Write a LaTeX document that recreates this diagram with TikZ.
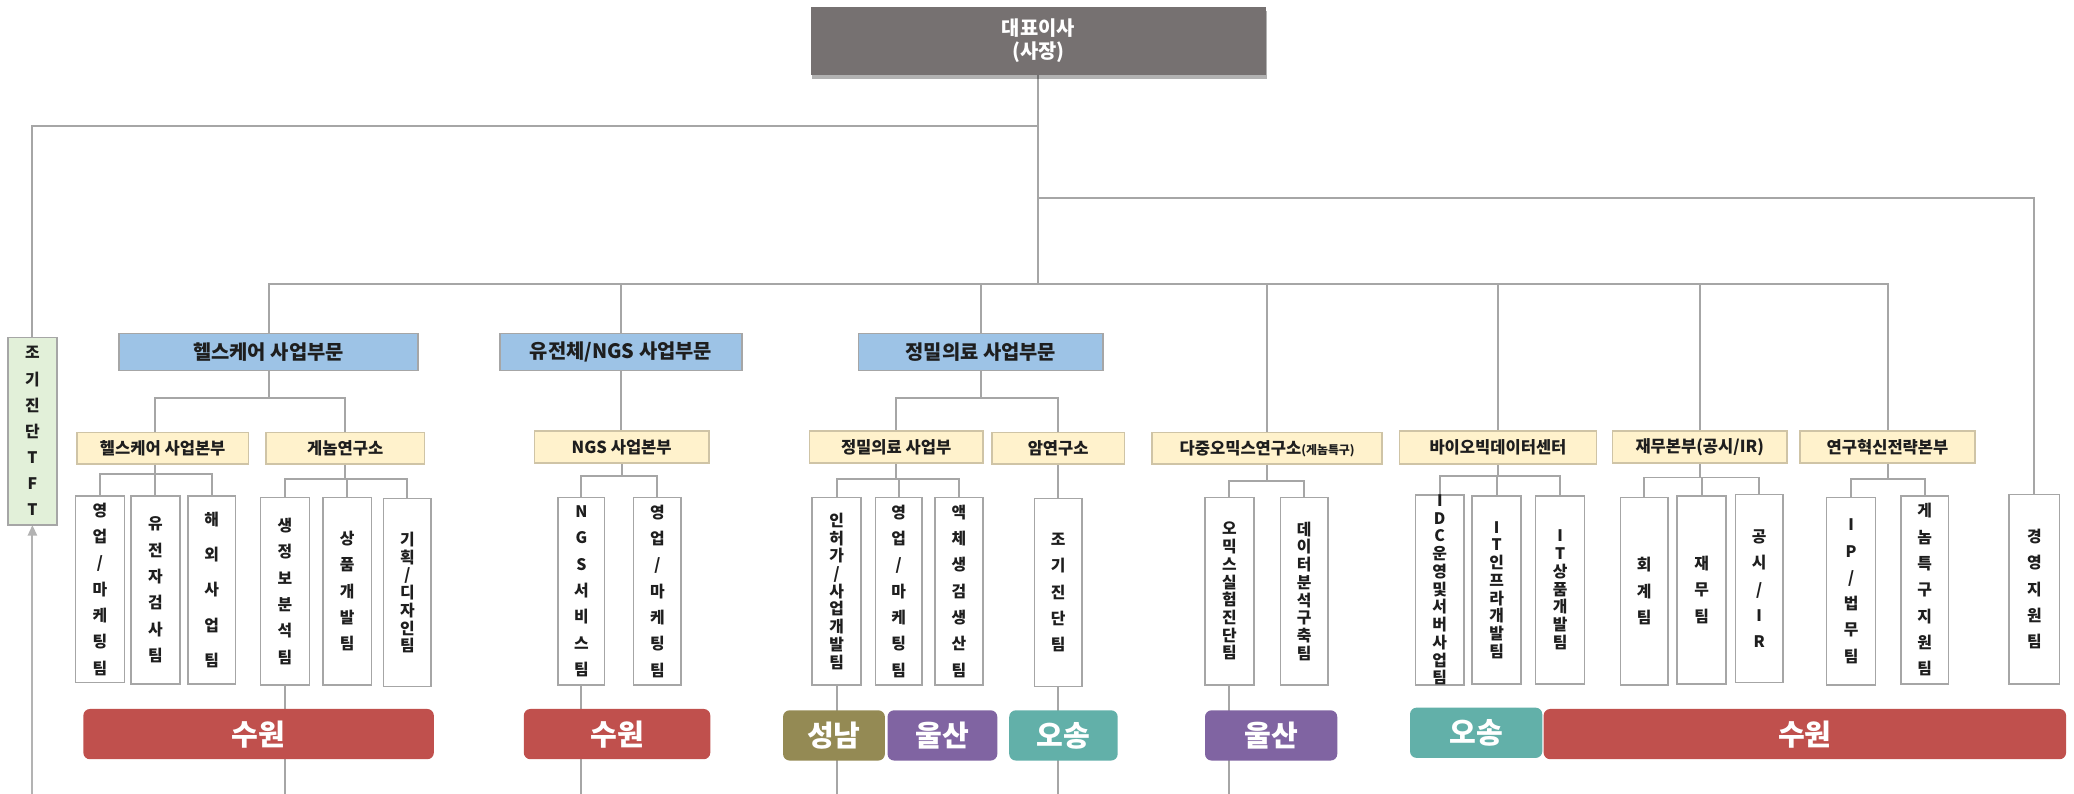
\documentclass[tikz,border=0pt]{standalone}
\usepackage{fontspec}
\setmainfont{Noto Sans CJK KR}
\usetikzlibrary{shadows,backgrounds,arrows.meta}
\definecolor{lgray}{HTML}{A6A6A6}
\definecolor{ceofill}{HTML}{767171}
\definecolor{bluefill}{HTML}{9DC3E6}
\definecolor{yelfill}{HTML}{FFF2CC}
\definecolor{yelline}{HTML}{CFC4A6}
\definecolor{grnfill}{HTML}{E2F0D9}
\definecolor{txt}{HTML}{1E1E1E}
\definecolor{locred}{HTML}{C0504D}
\definecolor{locolive}{HTML}{948A54}
\definecolor{locpurple}{HTML}{8064A2}
\definecolor{locteal}{HTML}{62B0A9}
\newcommand{\orgnode}[7]{\node[#6, minimum width={(#4-#2)*1pt}, minimum height={(#5-#3)*1pt}] (#1) at ({(#2+#4)/2},{(#3+#5)/2}) {#7};}
\tikzset{
  ln/.style={draw=lgray, line width=1.5pt},
  arr/.style={draw=lgray!85, line width=1.5pt, -{Triangle[width=7pt,length=8pt]}},
  basebox/.style={inner sep=0pt, outer sep=0pt, align=center, text=txt},
  ceobox/.style={basebox, fill=ceofill, text=white, font=\fontsize{15}{17.5}\selectfont\bfseries,
    drop shadow={shadow xshift=1pt, shadow yshift=-3pt, opacity=0.3, fill=black}},
  bluebox/.style={basebox, fill=bluefill, draw=lgray, line width=1.2pt, font=\fontsize{15}{17}\selectfont\bfseries},
  yelbox/.style={basebox, fill=yelfill, draw=yelline, line width=1.2pt, font=\fontsize{12.5}{14}\selectfont\bfseries},
  tftbox/.style={basebox, fill=grnfill, draw=lgray, line width=1.2pt, font=\fontsize{12}{19.8}\selectfont\bfseries},
  vb/.style={basebox, fill=white, draw=lgray, line width=1.2pt, font=\fontsize{12}{19.9}\selectfont\bfseries},
  vbc/.style={basebox, fill=white, draw=lgray, line width=1.2pt, font=\fontsize{12}{13.4}\selectfont\bfseries},
  vbw/.style={basebox, fill=white, draw=lgray, line width=1.2pt, font=\fontsize{12}{26.5}\selectfont\bfseries},
  loc/.style={basebox, rounded corners=5pt, text=white, font=\fontsize{22}{24}\selectfont\bfseries},
}
\begin{document}
\begin{tikzpicture}[x=1pt,y=-1pt]
\useasboundingbox (0,0) rectangle (1568,600);
% ---- nodes ----
\orgnode{ceo}{613}{5}{957}{57}{ceobox}{대표이사\\(사장)}
\orgnode{tft}{6}{255}{43}{397}{tftbox}{조\\기\\진\\단\\T\\F\\T}
\orgnode{hc}{90}{252}{316}{280}{bluebox}{헬스케어 사업부문}
\orgnode{ngs}{378}{252}{561}{280}{bluebox}{유전체/NGS 사업부문}
\orgnode{pm}{649}{252}{834}{280}{bluebox}{정밀의료 사업부문}
\orgnode{hcb}{58}{327}{188}{351}{yelbox}{헬스케어 사업본부}
\orgnode{gn}{201}{327}{321}{351}{yelbox}{게놈연구소}
\orgnode{ngsb}{404}{326}{536}{350}{yelbox}{NGS 사업본부}
\orgnode{pmb}{612}{326}{743}{350}{yelbox}{정밀의료 사업부}
\orgnode{ac}{750}{327}{850}{351}{yelbox}{암연구소}
\orgnode{mo}{871}{327}{1045}{351}{yelbox}{다중오믹스연구소{\fontsize{9}{10}\selectfont(게놈특구)}}
\orgnode{bd}{1058}{326}{1207}{351}{yelbox}{바이오빅데이터센터}
\orgnode{fi}{1219}{326}{1351}{350}{yelbox}{재무본부(공시/IR)}
\orgnode{ri}{1361}{326}{1493}{350}{yelbox}{연구혁신전략본부}
% vertical team boxes
\orgnode{a1}{57}{375}{94}{516}{vb}{영\\업\\/\\마\\케\\팅\\팀}
\orgnode{a2}{99}{375}{136}{517}{vb}{유\\전\\자\\검\\사\\팀}
\orgnode{a3}{142}{375}{178}{517}{vbw}{해\\외\\사\\업\\팀}
\orgnode{b1}{197}{376}{234}{518}{vb}{생\\정\\보\\분\\석\\팀}
\orgnode{b2}{244}{376}{281}{518}{vb}{상\\품\\개\\발\\팀}
\orgnode{b3}{290}{377}{326}{519}{vbc}{기\\획\\/\\디\\자\\인\\팀}
\orgnode{c1}{422}{376}{457}{518}{vb}{N\\G\\S\\서\\비\\스\\팀}
\orgnode{c2}{479}{376}{515}{518}{vb}{영\\업\\/\\마\\케\\팅\\팀}
\orgnode{d1}{614}{376}{651}{518}{vbc}{인\\허\\가\\/\\사\\업\\개\\발\\팀}
\orgnode{d2}{662}{376}{697}{518}{vb}{영\\업\\/\\마\\케\\팅\\팀}
\orgnode{d3}{707}{376}{743}{518}{vb}{액\\체\\생\\검\\생\\산\\팀}
\orgnode{e1}{782}{377}{818}{519}{vb}{조\\기\\진\\단\\팀}
\orgnode{f1}{911}{376}{948}{518}{vbc}{오\\믹\\스\\실\\험\\진\\단\\팀}
\orgnode{f2}{968}{376}{1004}{518}{vbc}{데\\이\\터\\분\\석\\구\\축\\팀}
\orgnode{g1}{1070}{375}{1107}{517}{vbc}{I\\D\\C\\운\\영\\및\\서\\버\\사\\업\\팀}
\orgnode{g2}{1113}{375}{1150}{517}{vbc}{I\\T\\인\\프\\라\\개\\발\\팀}
\orgnode{g3}{1161}{375}{1198}{517}{vbc}{I\\T\\상\\품\\개\\발\\팀}
\orgnode{h1}{1225}{376}{1261}{518}{vb}{회\\계\\팀}
\orgnode{h2}{1268}{375}{1305}{517}{vb}{재\\무\\팀}
\orgnode{h3}{1312}{374}{1348}{516}{vb}{공\\시\\/\\I\\R}
\orgnode{i1}{1381}{376}{1418}{518}{vb}{I\\P\\/\\법\\무\\팀}
\orgnode{i2}{1437}{375}{1473}{517}{vb}{게\\놈\\특\\구\\지\\원\\팀}
\orgnode{gy}{1519}{374}{1557}{517}{vb}{경\\영\\지\\원\\팀}
% location bars
\orgnode{l1}{63}{536}{328}{574}{loc, fill=locred}{수원}
\orgnode{l2}{396}{536}{537}{574}{loc, fill=locred}{수원}
\orgnode{l3}{592}{537}{669}{575}{loc, fill=locolive}{성남}
\orgnode{l4}{671}{537}{754}{575}{loc, fill=locpurple}{울산}
\orgnode{l5}{763}{537}{845}{575}{loc, fill=locteal}{오송}
\orgnode{l6}{911}{537}{1011}{575}{loc, fill=locpurple}{울산}
\orgnode{l7}{1066}{535}{1166}{573}{loc, fill=locteal}{오송}
\orgnode{l8}{1167}{536}{1562}{574}{loc, fill=locred}{수원}
% ---- connectors ----
\begin{pgfonlayer}{background}
\fill[white] (0,0) rectangle (1568,600);
\coordinate (j0) at (785,215);
\coordinate (j1) at (785,95);
\coordinate (j2) at (785,150);
\coordinate (bot) at (0,600);
\draw[ln] (ceo.south) -- (j0);
\foreach \n in {hc,ngs,pm,mo,bd,fi,ri} \draw[ln] (j0) -| (\n.north);
\draw[ln] (j1) -| (tft.north);
\draw[ln] (j2) -| (gy.north);
% group A
\draw[ln] (hc.south) -- ++(0,21) coordinate (jA);
\draw[ln] (jA) -| ([xshift=-6pt]hcb.north);
\draw[ln] (jA) -| (gn.north);
% group B
\draw[ln] ([xshift=-6pt]hcb.south) -- ++(0,7.5) coordinate (jB);
\foreach \n in {a1,a2,a3} \draw[ln] (jB) -| (\n.north);
% group C
\draw[ln] (gn.south) -- ++(0,11) coordinate (jC);
\foreach \n in {b1,b2,b3} \draw[ln] (jC) -| (\n.north);
% group D/E
\draw[ln] (ngs.south) -- (ngs.south |- ngsb.north);
\draw[ln] (ngsb.south) -- ++(0,10) coordinate (jE);
\foreach \n in {c1,c2} \draw[ln] (jE) -| (\n.north);
% group F/G/H
\draw[ln] (pm.south) -- ++(0,21) coordinate (jF);
\foreach \n in {pmb,ac} \draw[ln] (jF) -| (\n.north);
\draw[ln] (pmb.south) -- ++(0,12) coordinate (jG);
\foreach \n in {d1,d2,d3} \draw[ln] (jG) -| (\n.north);
\draw[ln] (ac.south) -- (ac.south |- e1.north);
% group I
\draw[ln] (mo.south) -- ++(0,13) coordinate (jI);
\foreach \n in {f1,f2} \draw[ln] (jI) -| (\n.north);
% group J
\draw[ln] (bd.south) -- ++(0,9) coordinate (jJ);
\foreach \n in {g1,g2,g3} \draw[ln] (jJ) -| (\n.north);
% group K
\draw[ln] (fi.south) -- ++(0,11) coordinate (jK);
\foreach \n in {h1,h2,h3} \draw[ln] (jK) -| (\n.north);
% group L
\draw[ln] (ri.south) -- ++(0,12) coordinate (jL);
\foreach \n in {i1,i2} \draw[ln] (jL) -| (\n.north);
% lines down to sites
\foreach \n in {b1,c1,d1,e1,f1} \draw[ln] (\n.south) -- (\n.south |- bot);
\draw[arr] (tft.south |- bot) -- (tft.south);
\end{pgfonlayer}
\end{tikzpicture}
\end{document}
